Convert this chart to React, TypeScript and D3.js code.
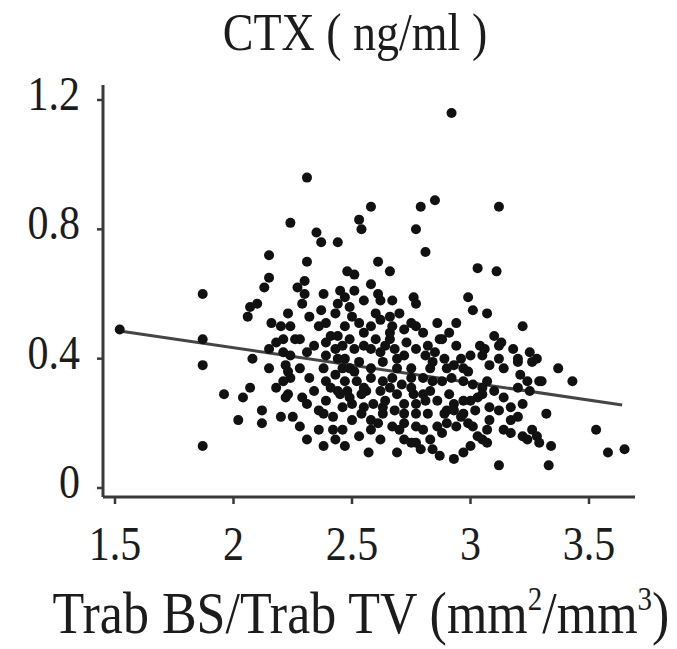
import React from "react";
import * as d3 from "d3";

// Trabecular bone surface density vs. serum CTX
const chartTitle = "CTX ( ng/ml )";
const xTicks = [1.5, 2, 2.5, 3, 3.5];
const xTickLabels = ["1.5", "2", "2.5", "3", "3.5"];
const yTicks = [0, 0.4, 0.8, 1.2];
const yTickLabels = ["0", "0.4", "0.8", "1.2"];

// Least-squares fit: CTX = intercept + slope * BS/TV
const fitIntercept = 0.65;
const fitSlope = -0.108;
const fitRange = [1.52, 3.64];

// [Trab BS/Trab TV, CTX]
const outerPoints: [number, number][] = [
  [2.92, 1.16], [2.31, 0.96], [2.58, 0.87], [2.79, 0.87], [2.85, 0.89], [3.12, 0.87],
  [2.24, 0.82], [2.53, 0.83], [2.54, 0.8], [2.77, 0.8], [2.35, 0.79], [2.37, 0.76],
  [2.44, 0.76], [2.81, 0.73], [2.15, 0.72], [2.31, 0.7], [2.48, 0.67], [2.51, 0.66],
  [2.61, 0.7], [2.66, 0.67], [2.3, 0.64], [3.03, 0.68], [3.11, 0.67], [2.99, 0.59],
  [3.01, 0.55], [3.07, 0.54], [3.22, 0.5], [2.76, 0.59], [2.77, 0.57], [2.67, 0.58],
  [2.86, 0.51], [2.94, 0.51], [1.87, 0.6], [2.15, 0.65], [2.13, 0.62], [2.27, 0.62],
  [2.3, 0.6], [2.29, 0.57], [2.38, 0.6], [2.45, 0.61], [2.47, 0.59], [2.58, 0.63],
  [2.61, 0.6], [2.1, 0.57], [2.07, 0.56], [2.06, 0.53], [2.23, 0.54], [2.16, 0.51],
  [2.2, 0.5], [2.39, 0.51], [2.36, 0.5], [2.49, 0.56], [2.5, 0.53], [2.6, 0.54],
  [2.66, 0.53], [1.52, 0.49], [1.87, 0.46], [1.87, 0.38], [1.87, 0.13], [2.07, 0.31],
  [1.96, 0.29], [2.04, 0.28], [2.02, 0.21], [2.12, 0.24], [2.12, 0.2], [2.2, 0.22],
  [2.08, 0.4], [2.15, 0.43], [2.15, 0.37], [2.18, 0.31], [2.21, 0.46], [2.21, 0.42],
  [2.23, 0.36], [2.23, 0.29], [2.25, 0.22], [2.31, 0.26], [2.38, 0.23], [2.28, 0.19],
  [2.31, 0.15], [2.38, 0.13], [2.36, 0.18], [2.42, 0.18], [2.46, 0.18], [2.5, 0.21],
  [2.53, 0.16], [2.57, 0.11], [2.58, 0.18], [2.67, 0.19], [2.69, 0.11], [2.22, 0.28],
  [2.24, 0.34], [2.24, 0.41], [2.24, 0.5], [2.62, 0.58], [2.18, 0.45], [2.21, 0.33],
  [2.75, 0.14], [2.83, 0.15], [2.84, 0.12], [2.93, 0.09], [2.97, 0.11],
  [3.1, 0.47], [3.12, 0.44], [3.05, 0.41], [3.25, 0.42], [3.26, 0.39], [3.37, 0.37],
  [3.3, 0.33], [3.43, 0.33], [3.32, 0.23], [3.53, 0.18], [3.58, 0.11], [3.65, 0.12],
  [3.12, 0.07], [3.33, 0.07], [3.28, 0.16], [3.34, 0.13], [3.22, 0.16], [3.17, 0.17],
  [3.07, 0.14], [3.03, 0.16], [2.99, 0.2], [2.77, 0.14], [3.17, 0.21], [3.22, 0.26],
  [3.25, 0.3], [3.2, 0.31], [3.14, 0.28], [3.08, 0.25], [3.03, 0.28], [2.97, 0.33],
  [3.07, 0.33], [3.14, 0.37], [3.2, 0.39], [2.96, 0.4], [3.13, 0.45], [3.28, 0.4],
  [3.12, 0.4], [3.2, 0.4], [3.29, 0.33], [3.24, 0.33], [3.26, 0.18], [3.14, 0.18],
  [3.05, 0.15], [3.01, 0.19], [2.96, 0.22], [3.0, 0.27], [3.05, 0.31], [2.99, 0.36],
  [3.2, 0.22], [3.24, 0.15], [3.29, 0.14],
];

const corePoints: [number, number][] = [
  [2.31, 0.42], [2.32, 0.34], [2.38, 0.37], [2.39, 0.33], [2.44, 0.3], [2.49, 0.28],
  [2.46, 0.37], [2.52, 0.33], [2.56, 0.3], [2.59, 0.26], [2.63, 0.23], [2.44, 0.47],
  [2.39, 0.45], [2.49, 0.46], [2.55, 0.48], [2.58, 0.43], [2.66, 0.46], [2.63, 0.39],
  [2.69, 0.37], [2.66, 0.31], [2.53, 0.39], [2.41, 0.47], [2.46, 0.44], [2.62, 0.42],
  [2.66, 0.48], [2.73, 0.45], [2.77, 0.5], [2.82, 0.44], [2.88, 0.46], [2.94, 0.44],
  [2.97, 0.37], [2.9, 0.37], [2.83, 0.37], [2.75, 0.37], [2.69, 0.4], [2.58, 0.37],
  [2.49, 0.37], [2.44, 0.4], [2.41, 0.31], [2.48, 0.3], [2.55, 0.31], [2.62, 0.3],
  [2.69, 0.29], [2.76, 0.29], [2.83, 0.3], [2.91, 0.29], [2.97, 0.27], [2.9, 0.24],
  [2.82, 0.23], [2.72, 0.23], [2.63, 0.25], [2.55, 0.25], [2.46, 0.25], [2.61, 0.2],
  [2.77, 0.19], [2.86, 0.19], [2.94, 0.19], [2.91, 0.48], [2.8, 0.48], [2.84, 0.39],
  [2.8, 0.34], [2.75, 0.31], [2.93, 0.26], [2.77, 0.23], [2.72, 0.26], [2.9, 0.2],
  [2.8, 0.18], [2.7, 0.18], [2.97, 0.23], [2.88, 0.17], [2.67, 0.5], [2.75, 0.51],
  [2.87, 0.46],
  [2.28, 0.46], [2.34, 0.44], [2.39, 0.41], [2.43, 0.43], [2.47, 0.4], [2.51, 0.43],
  [2.55, 0.44], [2.6, 0.46], [2.64, 0.44], [2.68, 0.43], [2.72, 0.41], [2.77, 0.43],
  [2.81, 0.41], [2.85, 0.42], [2.89, 0.4], [2.93, 0.38], [3.0, 0.41], [3.04, 0.44],
  [3.08, 0.38], [2.28, 0.37], [2.34, 0.3], [2.39, 0.27], [2.43, 0.35], [2.47, 0.33],
  [2.51, 0.36], [2.54, 0.29], [2.58, 0.34], [2.63, 0.33], [2.67, 0.34], [2.71, 0.32],
  [2.75, 0.34], [2.8, 0.29], [2.84, 0.33], [2.88, 0.33], [2.92, 0.34], [3.01, 0.32],
  [3.05, 0.29], [3.1, 0.3], [2.29, 0.28], [2.36, 0.24], [2.42, 0.22], [2.45, 0.29],
  [2.5, 0.26], [2.54, 0.23], [2.58, 0.21], [2.64, 0.27], [2.68, 0.24], [2.72, 0.2],
  [2.77, 0.26], [2.81, 0.27], [2.86, 0.27], [2.89, 0.23], [2.93, 0.24], [3.02, 0.24],
  [3.08, 0.21], [3.12, 0.24], [2.22, 0.38], [2.43, 0.15], [2.47, 0.13], [2.62, 0.15],
  [2.72, 0.15], [2.79, 0.12], [2.87, 0.1], [3.0, 0.13], [3.07, 0.18], [2.37, 0.55],
  [2.43, 0.54], [2.47, 0.5], [2.53, 0.51], [2.58, 0.5], [2.62, 0.52], [2.7, 0.54],
  [2.72, 0.49], [2.55, 0.58], [2.51, 0.61], [2.44, 0.57], [2.32, 0.53], [2.26, 0.46],
  [3.06, 0.43], [3.18, 0.43], [3.21, 0.35], [3.17, 0.25],
];

const FONT = "'Liberation Serif', 'Times New Roman', serif";
const INK = "#1c1c1c";
const AXIS = "#3a3a3a";
const TEXT_STRETCH = 1.15;

function Label({
  x,
  y,
  size,
  anchor,
  children,
}: {
  x: number;
  y: number;
  size: number;
  anchor: "start" | "middle" | "end";
  children: React.ReactNode;
}) {
  return (
    <text
      transform={`translate(${x},${y}) scale(1,${TEXT_STRETCH})`}
      textAnchor={anchor}
      fontFamily={FONT}
      fontSize={size}
      fill={INK}
    >
      {children}
    </text>
  );
}

export default function App() {
  const x = d3.scaleLinear().domain([1.5, 3.5]).range([115, 589]);
  const y = d3.scaleLinear().domain([0, 1.2]).range([488, 100]);

  const axisLeft = 103;
  const axisBottom = 497;
  const axisTop = 85;
  const axisRight = 635;

  const fitLine = d3
    .line<number>()
    .x((v) => x(v))
    .y((v) => y(fitIntercept + fitSlope * v));

  const allPoints = [...outerPoints, ...corePoints];

  return (
    <svg
      width={677}
      height={649}
      style={{ position: "absolute", left: 0, top: 0, background: "#fff" }}
    >
      <rect width={677} height={649} fill="#fff" />
      <Label x={355} y={50} size={46} anchor="middle">
        {chartTitle}
      </Label>

      {/* axes */}
      <line x1={axisLeft} x2={axisLeft} y1={axisTop} y2={axisBottom} stroke={AXIS} strokeWidth={3} />
      <line x1={axisLeft} x2={axisRight} y1={axisBottom} y2={axisBottom} stroke={AXIS} strokeWidth={3} />

      {yTicks.map((t, i) => (
        <g key={"y" + t}>
          <line x1={axisLeft - 6} x2={axisLeft} y1={y(t)} y2={y(t)} stroke={AXIS} strokeWidth={2.5} />
          <Label x={80} y={y(t) + 10} size={42} anchor="end">
            {yTickLabels[i]}
          </Label>
        </g>
      ))}

      {xTicks.map((t, i) => (
        <g key={"x" + t}>
          <line x1={x(t)} x2={x(t)} y1={axisBottom} y2={axisBottom + 7} stroke={AXIS} strokeWidth={2.5} />
          <Label x={x(t)} y={560} size={42} anchor="middle">
            {xTickLabels[i]}
          </Label>
        </g>
      ))}

      <Label x={361} y={633} size={52} anchor="middle">
        Trab BS/Trab TV (mm
        <tspan fontSize={29} dy={-20}>2</tspan>
        <tspan dy={20}>/mm</tspan>
        <tspan fontSize={29} dy={-20}>3</tspan>
        <tspan dy={20}>)</tspan>
      </Label>

      {/* regression line */}
      <path d={fitLine(fitRange) ?? ""} fill="none" stroke="#454545" strokeWidth={3} />

      {/* observations */}
      {allPoints.map(([bs, ctx], i) => (
        <circle key={i} cx={x(bs)} cy={y(ctx)} r={5} fill="#111" />
      ))}
    </svg>
  );
}
